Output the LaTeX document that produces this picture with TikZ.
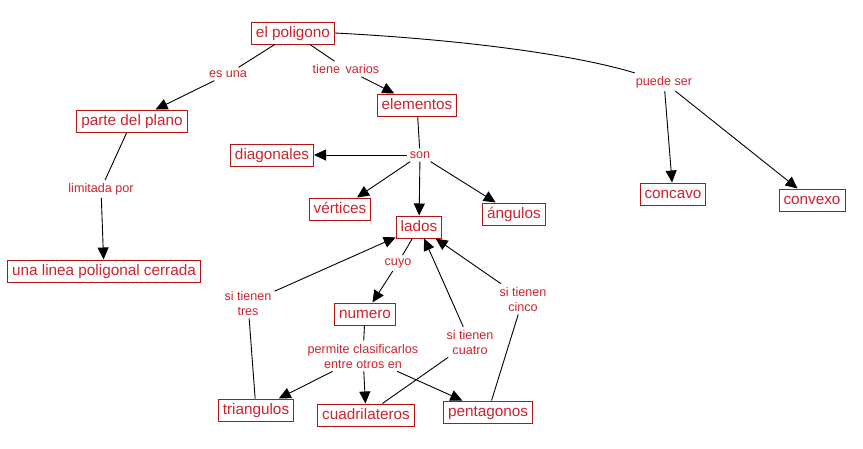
\documentclass[tikz,border=0pt]{standalone}
\usepackage{fontspec}
\setmainfont{Liberation Sans}
\usetikzlibrary{arrows.meta}
\definecolor{maptext}{RGB}{205,35,45}
\definecolor{mapborder}{RGB}{180,20,20}

\begin{document}
\begin{tikzpicture}[
        x=1pt, y=1pt,
        concept/.style={draw=mapborder, line width=1pt, text=maptext, font=\fontsize{15.3}{18}\selectfont, inner xsep=4.5pt, inner ysep=4pt, text height=11pt, text depth=3pt},
        linkword/.style={text=maptext, font=\fontsize{12.6}{15}\selectfont, inner sep=3pt, align=center},
        link/.style={black, line width=0.9pt},
        linkarrow/.style={black, line width=0.9pt, -{Triangle[length=12pt, width=11pt]}}
    ]
    \useasboundingbox (0,0) rectangle (863,-448);

    % concepts
    \node[concept] (poligono) at (293, -33) {el poligono};
    \node[concept] (elementos) at (417, -105) {elementos};
    \node[concept] (plano) at (132, -121) {parte del plano};
    \node[concept] (diagonales) at (272, -155) {diagonales};
    \node[concept] (vertices) at (340, -209) {vértices};
    \node[concept] (lados) at (419, -227) {lados};
    \node[concept] (angulos) at (514, -214) {ángulos};
    \node[concept] (concavo) at (673, -194) {concavo};
    \node[concept] (convexo) at (812, -200) {convexo};
    \node[concept] (linea) at (104, -271) {una linea poligonal cerrada};
    \node[concept] (numero) at (365, -314) {numero};
    \node[concept] (triangulos) at (256, -410) {triangulos};
    \node[concept] (cuadrilateros) at (366, -415) {cuadrilateros};
    \node[concept] (pentagonos) at (488, -412) {pentagonos};

    % linking words
    \node[linkword] (esuna) at (228, -74) {es una};
    \node[linkword] (tiene) at (346, -69) {tiene\, varios};
    \node[linkword] (puede) at (664, -82) {puede ser};
    \node[linkword] (son) at (420, -155) {son};
    \node[linkword] (limitada) at (101, -189) {limitada por};
    \node[linkword] (cuyo) at (398, -263) {cuyo};
    \node[linkword] (tres) at (248, -303) {si tienen\\tres};
    \node[linkword] (cinco) at (523, -299) {si tienen\\cinco};
    \node[linkword] (cuatro) at (470, -342) {si tienen\\cuatro};
    \node[linkword] (permite) at (363, -356) {permite clasificarlos\\entre otros en};

    % el poligono
    \draw[link] (poligono) -- (esuna);
    \draw[linkarrow] (esuna) -- (plano);
    \draw[link] (poligono) -- (tiene);
    \draw[linkarrow] (tiene) -- (elementos);
    \draw[link] (poligono.east) .. controls (470, -40) and (580, -56) .. (puede);
    \draw[linkarrow] (puede) -- (concavo);
    \draw[linkarrow] (puede) -- (convexo);

    % parte del plano
    \draw[link] (plano) -- (limitada);
    \draw[linkarrow] (limitada) -- (linea);

    % elementos
    \draw[link] (elementos) -- (son);
    \draw[linkarrow] (son) -- (diagonales);
    \draw[linkarrow] (son) -- (vertices);
    \draw[linkarrow] (son) -- (lados);
    \draw[linkarrow] (son) -- (angulos);

    % lados
    \draw[link] (lados) -- (cuyo);
    \draw[linkarrow] (cuyo) -- (numero);
    \draw[link] (numero) -- (permite);
    \draw[linkarrow] (permite) -- (triangulos);
    \draw[linkarrow] (permite) -- (cuadrilateros);
    \draw[linkarrow] (permite) -- (pentagonos);
    \draw[link] (triangulos) -- (tres);
    \draw[linkarrow] (tres) -- (lados);
    \draw[link] (cuadrilateros) -- (cuatro);
    \draw[linkarrow] (cuatro) -- (lados);
    \draw[link] (pentagonos) -- (cinco);
    \draw[linkarrow] (cinco) -- (lados);
\end{tikzpicture}
\end{document}
